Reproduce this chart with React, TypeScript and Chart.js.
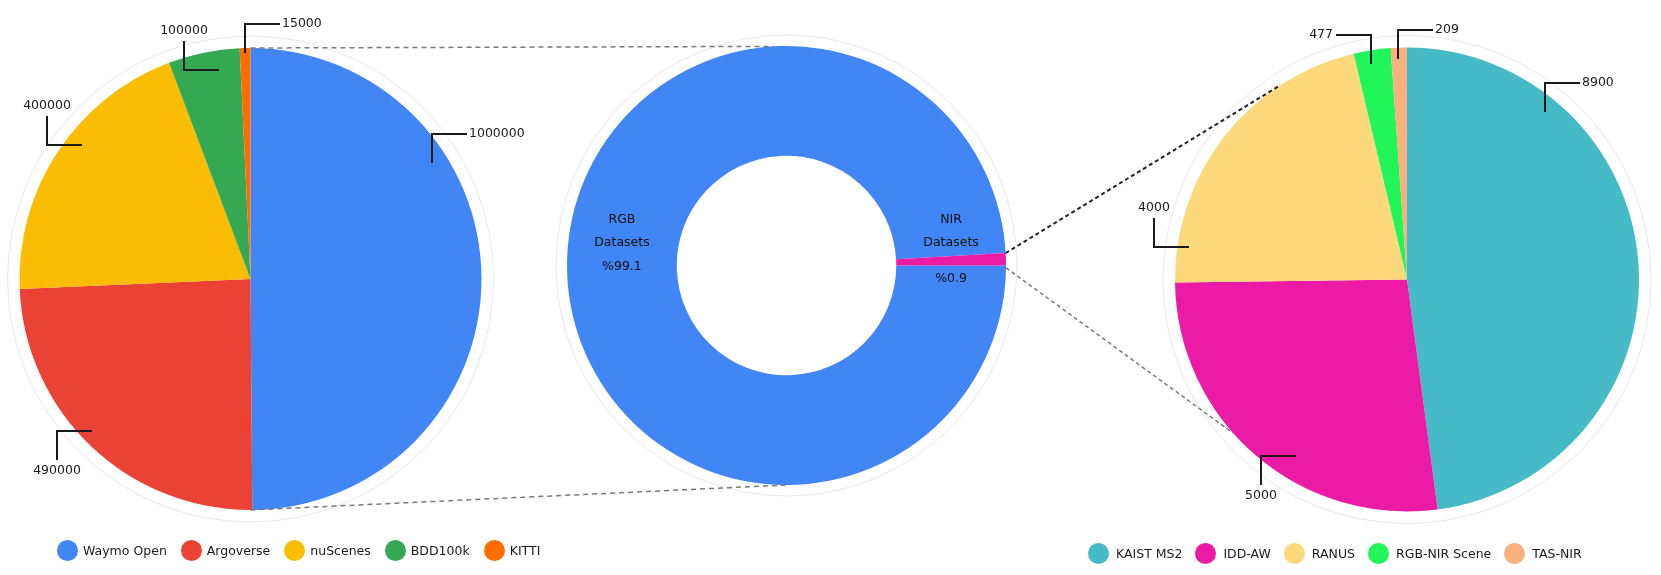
import React, { useEffect, useRef } from "react";
import { Chart, registerables } from "chart.js";

Chart.register(...registerables);

const W = 1661;
const H = 575;
const FONT = '"DejaVu Sans", Verdana, sans-serif';

// ---- data ----
const rgbLabels = ["Waymo Open", "Argoverse", "nuScenes", "BDD100k", "KITTI"];
const rgbValues = [1000000, 490000, 400000, 100000, 15000];
const rgbColors = ["#4285F4", "#EA4335", "#FBBC04", "#34A853", "#FF6D01"];

const nirLabels = ["KAIST MS2", "IDD-AW", "RANUS", "RGB-NIR Scene", "TAS-NIR"];
const nirValues = [8900, 5000, 4000, 477, 209];
const nirColors = ["#47BBC5", "#EC1BA6", "#FCDA7C", "#22F55A", "#F8B07E"];

const typeLabels = ["RGB Datasets", "NIR Datasets"];
const typeShares = [99.1, 0.9];
const typeColors = ["#4285F4", "#EC1BA6"];
const typeText = [
  ["RGB", "Datasets", "%99.1"],
  ["NIR", "Datasets", "%0.9"],
];

// ---- layout / style ----
const LEFT_GEOM = { cx: 250.5, cy: 279, r: 231 };
const MID_GEOM = { cx: 786.5, cy: 265.5, r: 219.5 };
const RIGHT_GEOM = { cx: 1407, cy: 279.5, r: 232 };

type Leader = { f: number; r: number; dir: string };
const rgbLeaders: Leader[] = [
  { f: 0.32, r: 0.93, dir: "upRight" },
  { f: 0.53, r: 0.95, dir: "leftDown" },
  { f: 0.57, r: 0.93, dir: "leftUp" },
  { f: 0.67, r: 0.915, dir: "leftUp" },
  { f: 0.45, r: 0.98, dir: "upRight" },
];
const nirLeaders: Leader[] = [
  { f: 0.23, r: 0.935, dir: "upRight" },
  { f: 0.41, r: 0.9, dir: "leftDown" },
  { f: 0.12, r: 0.95, dir: "leftUp" },
  { f: 0.42, r: 0.94, dir: "upLeft" },
  { f: 0.43, r: 0.95, dir: "upRight" },
];
const donutTextOffsets = [
  [-45.5, -22.5, 1.5],
  [-45.5, -22.5, 13.5],
];

function padFor(g: { cx: number; cy: number; r: number }) {
  return {
    left: g.cx - g.r,
    top: g.cy - g.r,
    right: W - g.cx - g.r,
    bottom: H - g.cy - g.r,
  };
}

function drawLeader(ctx: CanvasRenderingContext2D, ax: number, ay: number, dir: string, text: string) {
  const V = 29;
  const HL = 35;
  ax = Math.round(ax);
  ay = Math.round(ay);
  ctx.save();
  ctx.strokeStyle = "#1a1a1a";
  ctx.lineWidth = 2;
  ctx.lineJoin = "miter";
  ctx.lineCap = "butt";
  ctx.fillStyle = "#1a1a1a";
  ctx.font = `12.5px ${FONT}`;
  ctx.beginPath();
  ctx.moveTo(ax, ay);
  let tx = 0;
  let ty = 0;
  let align: CanvasTextAlign = "left";
  if (dir === "upRight") {
    ctx.lineTo(ax, ay - V);
    ctx.lineTo(ax + HL, ay - V);
    tx = ax + HL + 2;
    ty = ay - V;
    align = "left";
  } else if (dir === "upLeft") {
    ctx.lineTo(ax, ay - V);
    ctx.lineTo(ax - HL, ay - V);
    tx = ax - HL - 3;
    ty = ay - V;
    align = "right";
  } else if (dir === "leftUp") {
    ctx.lineTo(ax - HL, ay);
    ctx.lineTo(ax - HL, ay - V);
    tx = ax - HL;
    ty = ay - V - 10;
    align = "center";
  } else {
    ctx.lineTo(ax - HL, ay);
    ctx.lineTo(ax - HL, ay + V);
    tx = ax - HL;
    ty = ay + V + 11;
    align = "center";
  }
  ctx.stroke();
  ctx.textAlign = align;
  ctx.textBaseline = "middle";
  ctx.fillText(text, tx, ty);
  ctx.restore();
}

const ringPlugin = (extra: number) => ({
  id: "ring",
  beforeDatasetsDraw(chart: any) {
    const el = chart.getDatasetMeta(0).data[0];
    if (!el) return;
    const ctx = chart.ctx as CanvasRenderingContext2D;
    ctx.save();
    ctx.strokeStyle = "#e8e8e8";
    ctx.lineWidth = 1;
    ctx.beginPath();
    ctx.arc(el.x, el.y, el.outerRadius + extra, 0, Math.PI * 2);
    ctx.stroke();
    ctx.restore();
  },
});

const leaderPlugin = (leaders: Leader[]) => ({
  id: "leaders",
  afterDatasetsDraw(chart: any) {
    const ctx = chart.ctx as CanvasRenderingContext2D;
    const meta = chart.getDatasetMeta(0);
    const vals = chart.data.datasets[0].data as number[];
    meta.data.forEach((el: any, i: number) => {
      const L = leaders[i];
      const a = el.startAngle + L.f * (el.endAngle - el.startAngle);
      const r = el.outerRadius * L.r;
      drawLeader(ctx, el.x + r * Math.cos(a), el.y + r * Math.sin(a), L.dir, String(vals[i]));
    });
  },
});

function makePie(
  canvas: HTMLCanvasElement,
  labels: string[],
  values: number[],
  colors: string[],
  g: { cx: number; cy: number; r: number },
  leaders: Leader[]
) {
  return new Chart(canvas, {
    type: "pie",
    data: {
      labels,
      datasets: [{ data: values, backgroundColor: colors, borderWidth: 0, radius: g.r } as any],
    },
    options: {
      responsive: false,
      animation: false,
      events: [],
      layout: { padding: padFor(g) },
      plugins: { legend: { display: false }, tooltip: { enabled: false } },
    },
    plugins: [ringPlugin(12), leaderPlugin(leaders)],
  });
}

function pt(el: any, deg: number) {
  const a = (deg * Math.PI) / 180;
  return [el.x + el.outerRadius * Math.cos(a), el.y + el.outerRadius * Math.sin(a)];
}

export default function App() {
  const leftRef = useRef<HTMLCanvasElement>(null);
  const rightRef = useRef<HTMLCanvasElement>(null);
  const midRef = useRef<HTMLCanvasElement>(null);

  useEffect(() => {
    const left = makePie(leftRef.current!, rgbLabels, rgbValues, rgbColors, LEFT_GEOM, rgbLeaders);
    const right = makePie(rightRef.current!, nirLabels, nirValues, nirColors, RIGHT_GEOM, nirLeaders);

    const donutTextPlugin = {
      id: "donutText",
      afterDatasetsDraw(chart: any) {
        const ctx = chart.ctx as CanvasRenderingContext2D;
        const meta = chart.getDatasetMeta(0);
        ctx.save();
        ctx.fillStyle = "#111";
        ctx.font = `12.5px ${FONT}`;
        ctx.textAlign = "center";
        ctx.textBaseline = "middle";
        meta.data.forEach((el: any, i: number) => {
          const a = (el.startAngle + el.endAngle) / 2;
          const r = (el.innerRadius + el.outerRadius) / 2;
          const x = el.x + r * Math.cos(a);
          typeText[i].forEach((line, j) => ctx.fillText(line, x, el.y + donutTextOffsets[i][j]));
        });
        ctx.restore();
      },
    };

    const connectorPlugin = {
      id: "connectors",
      afterDraw(chart: any) {
        const ctx = chart.ctx as CanvasRenderingContext2D;
        const D = chart.getDatasetMeta(0).data;
        const L = left.getDatasetMeta(0).data[0] as any;
        const R = right.getDatasetMeta(0).data[0] as any;
        const d0 = D[0] as any;
        const nir = D[1] as any;
        if (!L || !R || !d0 || !nir) return;
        const nirStartDeg = (nir.startAngle * 180) / Math.PI;
        const lines = [
          { a: pt(L, -90), b: pt(d0, -93.4), color: "#7a7a7a", dash: [5, 4], w: 1.5 },
          { a: pt(L, 90), b: pt(d0, 90), color: "#7a7a7a", dash: [5, 4], w: 1.5 },
          { a: pt(d0, nirStartDeg), b: pt(R, -123.5), color: "#222", dash: [4, 3], w: 2 },
          { a: pt(d0, 0.6), b: pt(R, 138.5), color: "#7a7a7a", dash: [4, 3], w: 1.5 },
        ];
        ctx.save();
        lines.forEach((ln) => {
          ctx.strokeStyle = ln.color;
          ctx.lineWidth = ln.w;
          ctx.setLineDash(ln.dash);
          ctx.beginPath();
          ctx.moveTo(ln.a[0], ln.a[1]);
          ctx.lineTo(ln.b[0], ln.b[1]);
          ctx.stroke();
        });
        ctx.restore();
      },
    };

    const mid = new Chart(midRef.current!, {
      type: "doughnut",
      data: {
        labels: typeLabels,
        datasets: [
          {
            data: typeShares,
            backgroundColor: typeColors,
            borderWidth: 0,
            rotation: 90,
            cutout: "50%",
            radius: MID_GEOM.r,
          } as any,
        ],
      },
      options: {
        responsive: false,
        animation: false,
        events: [],
        layout: { padding: padFor(MID_GEOM) },
        plugins: { legend: { display: false }, tooltip: { enabled: false } },
      },
      plugins: [ringPlugin(11), donutTextPlugin, connectorPlugin],
    });

    return () => {
      mid.destroy();
      right.destroy();
      left.destroy();
    };
  }, []);

  const canvasStyle: React.CSSProperties = {
    position: "absolute",
    left: 0,
    top: 0,
    width: W,
    height: H,
  };

  const legend = (labels: string[], colors: string[], left: number, top: number, textGap: number, itemGap: number) => (
    <div
      style={{
        position: "absolute",
        left,
        top,
        height: 21,
        display: "flex",
        alignItems: "center",
        whiteSpace: "nowrap",
        font: `12.5px ${FONT}`,
        color: "#1a1a1a",
      }}
    >
      {labels.map((l, i) => (
        <div key={l} style={{ display: "flex", alignItems: "center", marginRight: itemGap }}>
          <span
            style={{
              display: "inline-block",
              width: 21,
              height: 21,
              borderRadius: "50%",
              background: colors[i],
              marginRight: textGap,
            }}
          />
          <span>{l}</span>
        </div>
      ))}
    </div>
  );

  return (
    <div
      style={{
        position: "fixed",
        left: 0,
        top: 0,
        width: W,
        height: H,
        background: "#fff",
        overflow: "hidden",
      }}
    >
      <canvas ref={leftRef} width={W} height={H} style={canvasStyle} />
      <canvas ref={rightRef} width={W} height={H} style={canvasStyle} />
      <canvas ref={midRef} width={W} height={H} style={canvasStyle} />
      {legend(rgbLabels, rgbColors, 57, 540, 5, 14)}
      {legend(nirLabels, nirColors, 1088, 543, 7, 13)}
    </div>
  );
}
